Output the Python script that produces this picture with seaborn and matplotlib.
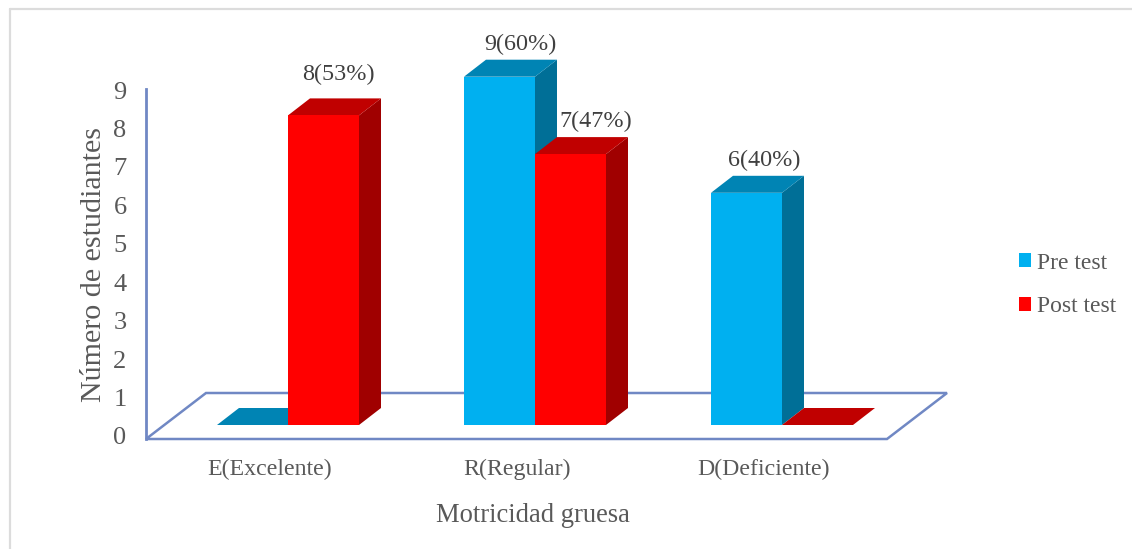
import matplotlib
matplotlib.use("Agg")
import matplotlib.pyplot as plt
from matplotlib.lines import Line2D
from matplotlib.patches import Polygon
from matplotlib.transforms import ScaledTranslation
import pandas as pd
import seaborn as sns

# Chart values
categories = ["E(Excelente)", "R(Regular)", "D(Deficiente)"]
pre_test = [0, 9, 6]
post_test = [8, 7, 0]
pre_labels = ["", "9(60%)", "6(40%)"]
post_labels = ["8(53%)", "7(47%)", ""]
y_ticks = list(range(10))

W, H = 1132, 549
sns.set_theme(style="white")
plt.rcParams["font.family"] = ["Liberation Serif", "DejaVu Serif"]

AXIS_BLUE = "#7088C4"
TEXT = "#595959"
FACE = {"Pre test": "#00B0F0", "Post test": "#FF0000"}
SIDE = {"Pre test": "#006F97", "Post test": "#A00000"}
TOP = {"Pre test": "#0084B4", "Post test": "#C00000"}

# Pixel geometry of the pseudo-3D box
LEFT, RIGHT, BOTTOM, TOP_PX = 146, 947, 439, 89
GROUP_STEP, UNIT = 247.0, 38.7
ORIGIN_X, ORIGIN_Y = 288, 425
DEPTH_X, DEPTH_Y = 22, 17
GROUP_WIDTH = 142 / GROUP_STEP

df = pd.DataFrame({
    "nivel": categories * 2,
    "estudiantes": pre_test + post_test,
    "prueba": ["Pre test"] * 3 + ["Post test"] * 3,
})

fig = plt.figure(figsize=(W / 100, H / 100), dpi=100)
ax = fig.add_axes([LEFT / W, 1 - BOTTOM / H, (RIGHT - LEFT) / W, (BOTTOM - TOP_PX) / H])
ax.patch.set_alpha(0)

sns.barplot(data=df, x="nivel", y="estudiantes", hue="prueba", palette=FACE,
            width=GROUP_WIDTH, saturation=1, linewidth=0, ax=ax)

ax.set_xlim((LEFT - ORIGIN_X) / GROUP_STEP, (RIGHT - ORIGIN_X) / GROUP_STEP)
ax.set_ylim((ORIGIN_Y - BOTTOM) / UNIT, (ORIGIN_Y - TOP_PX) / UNIT)

dx, dy = DEPTH_X / GROUP_STEP, DEPTH_Y / UNIT

# Floor of the box
floor_depth_x = 60 / (RIGHT - LEFT)
floor_depth_y = 46 / (BOTTOM - TOP_PX)
ax.add_patch(Polygon(
    [(0, 0), (floor_depth_x, floor_depth_y), (1, floor_depth_y), (1 - floor_depth_x, 0)],
    closed=True, fill=False, edgecolor=AXIS_BLUE, linewidth=1.8,
    transform=ax.transAxes, clip_on=False, zorder=1,
))

# Side and top faces extruded from each bar
for layer, (name, container) in enumerate(zip(["Pre test", "Post test"], ax.containers)):
    for bar in container:
        x0, w, h = bar.get_x(), bar.get_width(), bar.get_height()
        bar.set_zorder(2.5 + layer)
        bar.set_clip_on(False)
        x1 = x0 + w
        ax.add_patch(Polygon([(x1, 0), (x1 + dx, dy), (x1 + dx, h + dy), (x1, h)],
                             closed=True, facecolor=SIDE[name], edgecolor="none",
                             zorder=2 + layer, clip_on=False))
        ax.add_patch(Polygon([(x0, h), (x0 + dx, h + dy), (x1 + dx, h + dy), (x1, h)],
                             closed=True, facecolor=TOP[name], edgecolor="none",
                             zorder=2.2 + layer, clip_on=False))

# Value labels, offset in points from each bar's top-centre
def label_bars(container, labels, offsets):
    for bar, text, (ox, oy) in zip(container, labels, offsets):
        if text:
            ax.annotate(text, (bar.get_x() + bar.get_width() / 2, bar.get_height()),
                        xytext=(ox, oy), textcoords="offset points", ha="center",
                        va="center", fontsize=17.4, color="#404040", zorder=6,
                        annotation_clip=False)

label_bars(ax.containers[0], pre_labels, [(0, 0), (15, 23.2), (12.5, 23.2)])
label_bars(ax.containers[1], post_labels, [(10.5, 29.8), (18, 23.8), (0, 0)])

# Category axis
ax.set_xlabel("Motricidad gruesa", fontsize=19.1, color=TEXT, va="center")
ax.xaxis.set_label_coords((533 - LEFT) / (RIGHT - LEFT), -(516 - BOTTOM) / (BOTTOM - TOP_PX))
ax.set_ylabel("")
ax.tick_params(axis="x", length=0, pad=14.3, labelsize=17.2, labelcolor=TEXT)
shift_left = ScaledTranslation(-18.5 / 100, 0, fig.dpi_scale_trans)
for tick_label in ax.get_xticklabels():
    tick_label.set_transform(tick_label.get_transform() + shift_left)
ax.set_yticks([])
for side in ["top", "right", "left", "bottom"]:
    ax.spines[side].set_visible(False)

# Value axis on the front corner of the box
value_ax = ax.twinx()
value_ax.patch.set_alpha(0)
value_ax.set_ylim(-3 / 38.44, (436 - TOP_PX) / 38.44)
value_ax.yaxis.tick_left()
value_ax.yaxis.set_label_position("left")
value_ax.set_yticks(y_ticks)
value_ax.tick_params(axis="y", length=0, pad=14, labelsize=19, labelcolor=TEXT)
value_ax.set_ylabel("Número de estudiantes", fontsize=21.6, color=TEXT, labelpad=4.5)
for side in ["top", "right", "bottom"]:
    value_ax.spines[side].set_visible(False)
value_ax.spines["left"].set_color(AXIS_BLUE)
value_ax.spines["left"].set_linewidth(2)
value_ax.grid(False)

# Legend at the right, outside the box
sns.move_legend(ax, loc="center left", bbox_to_anchor=(998 / W, 1 - 285 / H),
                bbox_transform=fig.transFigure, title=None, frameon=False,
                fontsize=17, handlelength=0.5, handleheight=0.5, handletextpad=0.27,
                labelspacing=0.97, labelcolor=TEXT)

# Thin frame around the chart area
frame = dict(color="#DCDCDC", linewidth=1.6, transform=fig.transFigure)
fig.add_artist(Line2D([10 / W, 10 / W], [0, 1 - 9 / H], **frame))
fig.add_artist(Line2D([10 / W, 1], [1 - 9 / H, 1 - 9 / H], **frame))

fig.savefig("out.png", dpi=100, facecolor="white")
